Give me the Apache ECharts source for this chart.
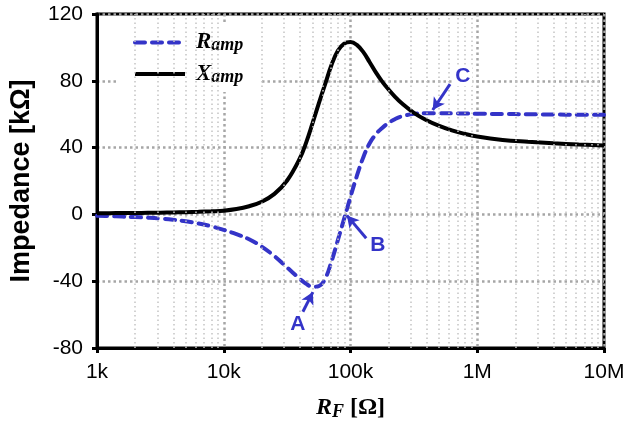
<!DOCTYPE html>
<html>
<head>
<meta charset="utf-8">
<script src="https://cdn.jsdelivr.net/npm/echarts@6/dist/echarts.min.js"></script>
<style>
html,body{margin:0;padding:0;background:#fff;}
#chart{width:629px;height:426px;}
</style>
</head>
<body>
<div id="chart"></div>
<script>
// ---- data (RF in ohms, impedance in kOhm), read at log-spaced RF values ----
const rfValues = [1000,1259,1585,1995,2512,3162,3981,5012,6310,7943,
  10000,12589,15849,19953,25119,31623,39811,44668,50119,56234,63096,70795,79433,89125,100000,
  112202,125893,141254,158489,177828,199526,223872,251189,316228,398107,501187,630957,794328,
  1e6,1.585e6,2.512e6,3.981e6,6.31e6,1e7];
const rAmp = [-0.8,-1.0,-1.3,-1.6,-2.0,-2.5,-3.2,-4.1,-5.4,-7.1,
  -9.3,-11.8,-14.9,-19.3,-25,-31.8,-38.6,-41.6,-43.3,-42.9,-38.5,-28.2,-15.5,-2.5,10.5,
  23,34,42.5,48,51.8,54.8,57,58.6,60.2,60.6,60.6,60.5,60.4,
  60.3,60.1,60,59.8,59.7,59.6];
const xAmp = [0.7,0.75,0.8,0.85,0.95,1.05,1.2,1.35,1.55,1.85,
  2.25,3.2,4.9,7.6,12.3,20.3,33.5,43,54.5,66.5,78,89.5,98,102.3,103.3,
  101.5,97.3,91.3,85,79.5,74.8,70.5,66.8,60.8,56.4,53,50.3,48.2,
  46.6,44.6,43.5,42.6,41.9,41.3];
const seriesNames = ['R_amp', 'X_amp'];
const xTickValues = [1000, 10000, 100000, 1000000, 10000000];
const xTickLabels = ['1k', '10k', '100k', '1M', '10M'];
const minorGridValues = [2e3,3e3,4e3,5e3,6e3,7e3,8e3,9e3,2e4,3e4,4e4,5e4,6e4,7e4,8e4,9e4,2e5,3e5,4e5,5e5,6e5,7e5,8e5,9e5,2e6,3e6,4e6,5e6,6e6,7e6,8e6,9e6];
const yMin = -80, yMax = 120, yInterval = 40;
// annotations: label, label position, arrow tail, arrow head (data coords)
const annoLabels = ['A', 'B', 'C'];
const annoLabelPos = [[38500, -66], [164000, -18.5], [768000, 83]];
const annoTail = [[42100, -58.3], [133000, -14.3], [610000, 78]];
const annoHead = [[50500, -46.5], [93600, -0.6], [445000, 62.5]];

const BLUE = '#3434c8';
const serif = '"Liberation Serif","DejaVu Serif",serif';
const sans = '"Liberation Sans",Arial,sans-serif';

const chart = echarts.init(document.getElementById('chart'), null, {renderer: 'canvas'});

const legendRich = {
  m: {fontFamily: serif, fontStyle: 'italic', fontWeight: 'bold', fontSize: 23, lineHeight: 24, color: '#000', padding: [0,0,0,6]},
  s: {fontFamily: serif, fontStyle: 'italic', fontWeight: 'bold', fontSize: 18, lineHeight: 16, verticalAlign: 'bottom', color: '#000'}
};

const option = {
  animation: false,
  backgroundColor: '#fff',
  grid: {left: 97, right: 25, top: 14, bottom: 78, show: true, borderColor: '#000', borderWidth: 3, backgroundColor: 'transparent'},
  legend: {
    data: seriesNames,
    orient: 'vertical',
    left: 117, top: 25,
    padding: [6, 16, 6, 16],
    backgroundColor: '#fff',
    itemWidth: 50, itemHeight: 14, itemGap: 8,
    itemStyle: {opacity: 0},
    lineStyle: {width: 4},
    formatter: function (name) {
      const parts = name.split('_');
      return '{m|' + parts[0] + '}{s|' + parts[1] + '}';
    },
    textStyle: {rich: legendRich}
  },
  xAxis: {
    type: 'log', logBase: 10, min: xTickValues[0], max: xTickValues[xTickValues.length - 1],
    name: '{m|R}{s|F}{b| [Ω]}',
    nameLocation: 'middle', nameGap: 47,
    nameTextStyle: {
      rich: {
        m: {fontFamily: serif, fontStyle: 'italic', fontWeight: 'bold', fontSize: 24, lineHeight: 26, color: '#000'},
        s: {fontFamily: serif, fontStyle: 'italic', fontWeight: 'bold', fontSize: 18, lineHeight: 17, verticalAlign: 'bottom', color: '#000'},
        b: {fontFamily: serif, fontWeight: 'bold', fontSize: 24, lineHeight: 26, color: '#000'}
      }
    },
    axisLine: {show: true, onZero: false, lineStyle: {color: '#000', width: 3}},
    axisTick: {show: true, inside: false, length: 5, lineStyle: {color: '#000', width: 3}},
    axisLabel: {
      margin: 14, color: '#000', fontFamily: sans, fontSize: 21,
      formatter: function (v) {
        const i = xTickValues.findIndex(t => Math.abs(Math.log10(t) - Math.log10(v)) < 1e-6);
        return i >= 0 ? xTickLabels[i] : '';
      }
    },
    splitLine: {show: true, lineStyle: {color: '#a6a6a6', width: 2.5, type: [2.5, 3]}},
    minorTick: {show: false},
    minorSplitLine: {show: false}
  },
  yAxis: {
    type: 'value', min: yMin, max: yMax, interval: yInterval,
    name: 'Impedance [kΩ]',
    nameLocation: 'middle', nameGap: 62, nameRotate: 90,
    nameTextStyle: {fontFamily: sans, fontWeight: 'bold', fontSize: 27, color: '#000'},
    axisLine: {show: true, onZero: false, lineStyle: {color: '#000', width: 3}},
    axisTick: {show: true, inside: false, length: 5, lineStyle: {color: '#000', width: 3}},
    axisLabel: {margin: 14, color: '#000', fontFamily: sans, fontSize: 21},
    splitLine: {show: true, lineStyle: {color: '#a6a6a6', width: 2.5, type: [2.5, 3]}}
  },
  series: [
    {
      name: 'minorGrid', type: 'line', data: [], z: 1, silent: true,
      markLine: {
        silent: true, symbol: 'none', animation: false,
        label: {show: false},
        lineStyle: {color: '#c4c4c4', width: 1.5, type: [1.5, 3]},
        data: minorGridValues.map(v => ({xAxis: v}))
      }
    },
    {
      name: seriesNames[0], type: 'line', z: 3,
      data: rfValues.map((v, i) => [v, rAmp[i]]),
      showSymbol: false, symbol: 'none',
      smooth: 0.4,
      lineStyle: {color: BLUE, width: 4, type: [10, 7], cap: 'round'},
      itemStyle: {color: BLUE},
      markLine: {
        silent: true, animation: false,
        symbol: ['none', 'arrow'], symbolSize: [10, 12],
        label: {show: false},
        lineStyle: {color: BLUE, width: 3, type: 'solid'},
        data: annoTail.map((t, i) => [{coord: t}, {coord: annoHead[i]}])
      },
      markPoint: {
        silent: true, animation: false,
        symbol: 'circle', symbolSize: 0,
        label: {
          show: true, position: 'inside', color: BLUE,
          fontFamily: sans, fontWeight: 'bold', fontSize: 21,
          backgroundColor: '#fff', padding: [0, 2],
          formatter: function (p) { return p.name; }
        },
        data: annoLabels.map((l, i) => ({name: l, coord: annoLabelPos[i]}))
      }
    },
    {
      name: seriesNames[1], type: 'line', z: 4,
      data: rfValues.map((v, i) => [v, xAmp[i]]),
      showSymbol: false, symbol: 'none',
      smooth: 0.4,
      lineStyle: {color: '#000', width: 4},
      itemStyle: {color: '#000'}
    }
  ]
};
chart.setOption(option);
</script>
</body>
</html>
